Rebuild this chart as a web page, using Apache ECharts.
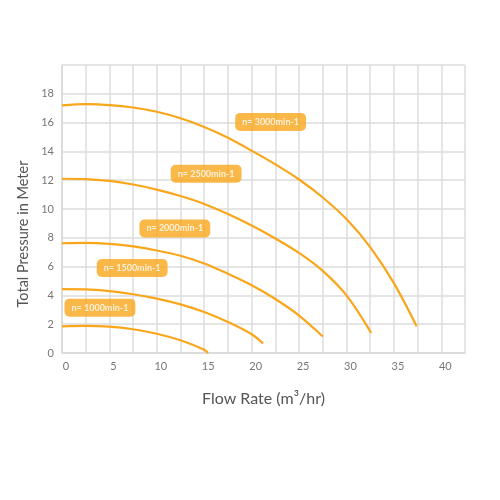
<!DOCTYPE html>
<html>
<head>
<meta charset="utf-8">
<script src="https://cdn.jsdelivr.net/npm/echarts@6/dist/echarts.min.js"></script>
<style>
html,body{margin:0;padding:0;background:#fff;}
#c{width:500px;height:500px;}
</style>
</head>
<body>
<div id="c"></div>
<script>
// Flow (m3/hr) vs pressure (m) for each speed curve
const flow3000 = [0, 2.5, 5, 7.5, 10, 12.5, 15, 17.5, 20, 22.5, 25, 27.5, 30, 32.5, 35, 37.4];
const head3000 = [17.2, 17.28, 17.22, 17.05, 16.75, 16.3, 15.7, 14.95, 14.05, 13.1, 12.05, 10.8, 9.3, 7.35, 4.85, 1.85];
const flow2500 = [0, 2.5, 5, 7.5, 10, 12.5, 15, 17.5, 20, 22.5, 25, 27.5, 30, 32.6];
const head2500 = [12.1, 12.08, 11.95, 11.7, 11.35, 10.9, 10.35, 9.65, 8.85, 7.95, 6.95, 5.7, 4.0, 1.4];
const flow2000 = [0, 2.5, 5, 7.5, 10, 12.5, 15, 17.5, 20, 22.5, 25, 27.5];
const head2000 = [7.62, 7.65, 7.58, 7.4, 7.12, 6.75, 6.22, 5.5, 4.7, 3.75, 2.6, 1.15];
const flow1500 = [0, 2.5, 5, 7.5, 10, 12.5, 15, 17.5, 20, 21.2];
const head1500 = [4.43, 4.42, 4.3, 4.08, 3.78, 3.38, 2.85, 2.15, 1.3, 0.67];
const flow1000 = [0, 2.5, 5, 7.5, 10, 12.5, 15, 15.4];
const head1000 = [1.85, 1.88, 1.83, 1.65, 1.34, 0.88, 0.22, 0];

const speedLabels = ['n= 3000min-1', 'n= 2500min-1', 'n= 2000min-1', 'n= 1500min-1', 'n= 1000min-1'];
const labelFlow = [22.0, 15.2, 11.9, 7.4, 4.0];
const labelHead = [16.05, 12.45, 8.65, 5.9, 3.15];

const xTicks = [0, 5, 10, 15, 20, 25, 30, 35, 40];
const yTicks = [0, 2, 4, 6, 8, 10, 12, 14, 16, 18];

const orange = '#F9A61B';
const zip = (a, b) => a.map((v, i) => [v, b[i]]);
const curves = [[flow3000, head3000], [flow2500, head2500], [flow2000, head2000], [flow1500, head1500], [flow1000, head1000]];

const series = curves.map(([f, h]) => ({
  type: 'line',
  data: zip(f, h),
  smooth: 0.35,
  symbol: 'none',
  lineStyle: { color: orange, width: 2.2 },
  z: 3
}));

series.push({
  type: 'scatter',
  symbolSize: 0,
  z: 5,
  data: speedLabels.map((t, i) => ({ value: [labelFlow[i], labelHead[i]], name: t })),
  label: {
    show: true,
    position: 'inside',
    formatter: p => p.name,
    color: '#fff',
    fontFamily: 'Lato, Roboto, sans-serif',
    fontWeight: 'bold',
    fontSize: 9,
    backgroundColor: orange,
    borderRadius: 5,
    padding: [5, 7, 4, 7]
  }
});

const chart = echarts.init(document.getElementById('c'), null, { renderer: 'canvas' });
chart.setOption({
  animation: false,
  backgroundColor: '#fff',
  grid: { left: 62, right: 35, top: 65, bottom: 147, containLabel: false },
  xAxis: {
    type: 'value',
    min: 0,
    max: 42.5,
    interval: 2.5,
    name: 'Flow Rate (m\u00B3/hr)',
    nameLocation: 'middle',
    nameGap: 38,
    nameTextStyle: { color: '#555', fontSize: 16, fontFamily: 'Lato, Roboto, sans-serif' },
    axisLine: { show: true, lineStyle: { color: '#d9d9d9', width: 1.5 } },
    axisTick: { show: false },
    axisLabel: {
      color: '#777', fontSize: 11, fontFamily: 'Lato, Roboto, sans-serif', margin: 8,
      padding: [0, 0, 0, 8],
      showMaxLabel: false,
      formatter: v => xTicks.indexOf(v) >= 0 ? String(v) : ''
    },
    splitLine: { show: true, lineStyle: { color: '#dcdcdc', width: 1.5 } }
  },
  yAxis: {
    type: 'value',
    min: 0,
    max: 20,
    interval: 2,
    name: 'Total Pressure in Meter',
    nameLocation: 'middle',
    nameGap: 19,
    nameTextStyle: { color: '#555', fontSize: 14.5, fontFamily: 'Lato, Roboto, sans-serif', padding: [0, 50, 0, 0] },
    axisLine: { show: true, lineStyle: { color: '#d9d9d9', width: 1.5 } },
    axisTick: { show: false },
    axisLabel: {
      color: '#777', fontSize: 11, fontFamily: 'Lato, Roboto, sans-serif', margin: 8,
      formatter: v => yTicks.indexOf(v) >= 0 ? String(v) : ''
    },
    splitLine: { show: true, lineStyle: { color: '#dcdcdc', width: 1.5 } }
  },
  series: series
});
</script>
</body>
</html>
